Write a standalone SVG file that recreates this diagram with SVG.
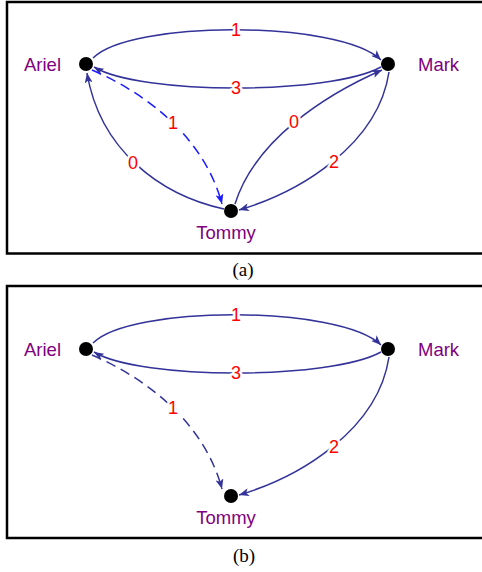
<svg xmlns="http://www.w3.org/2000/svg" width="482" height="572" viewBox="0 0 482 572">
<style>
.frame{fill:none;stroke:#000;stroke-width:2.5}
.edge{fill:none;stroke:#333399;stroke-width:1.5}
.dash{fill:none;stroke-width:1.5;stroke-dasharray:10,6}
.node{fill:#000}
.name{font-family:"Liberation Sans",Arial,sans-serif;font-size:18.5px;fill:#800080}
.lbl{font-family:"Liberation Sans",Arial,sans-serif;font-size:18px;fill:#ff0000;stroke:#fff;stroke-width:5;paint-order:stroke;stroke-linejoin:round;text-anchor:middle}
.cap{font-family:"Liberation Serif","Times New Roman",serif;font-size:19px;fill:#000;text-anchor:middle}
</style>
<defs>
<marker id="arr" markerUnits="userSpaceOnUse" markerWidth="11" markerHeight="8" refX="10" refY="4" orient="auto"><path d="M0,0 L10,4 L0,8 L2.5,4 z" fill="#333399"/></marker>
<marker id="arrB" markerUnits="userSpaceOnUse" markerWidth="11" markerHeight="8" refX="10" refY="4" orient="auto"><path d="M0,0 L10,4 L0,8 L2.5,4 z" fill="#1a1aff"/></marker>
</defs>
<rect class="frame" x="7" y="2" width="500" height="251.5"/>
<rect class="frame" x="7" y="286" width="500" height="252"/>
<text class="cap" x="243" y="276">(a)</text>
<text class="cap" x="244" y="562">(b)</text>

<g id="connectors-a">
<path class="edge" d="M93,58 C130,20 340,20 381,60" marker-end="url(#arr)"/>
<path class="edge" d="M381,67 C330,95 140,95 94,67" marker-end="url(#arr)"/>
<path class="edge" d="M224,209 C160,195 100,150 87,73" marker-end="url(#arr)"/>
<path class="dash" stroke="#1a1aff" d="M92,70 C150,95 205,140 222,204" marker-end="url(#arrB)"/>
<path class="edge" d="M235,204 C255,140 325,95 382,70" marker-end="url(#arr)"/>
<path class="edge" d="M389,72 C378,145 300,192 239,210" marker-end="url(#arr)"/>
<text class="lbl" x="236" y="36">1</text>
<text class="lbl" x="236" y="94">3</text>
<text class="lbl" x="133" y="169">0</text>
<text class="lbl" x="173" y="129">1</text>
<text class="lbl" x="294" y="128">0</text>
<text class="lbl" x="334" y="168">2</text>
</g>
<g id="node-ariel-a"><circle class="node" cx="86" cy="64" r="7"/><text class="name" x="24" y="71">Ariel</text></g>
<g id="node-mark-a"><circle class="node" cx="388" cy="64" r="7"/><text class="name" x="418" y="71">Mark</text></g>
<g id="node-tommy-a"><circle class="node" cx="231" cy="211" r="7"/><text class="name" x="226" y="239" text-anchor="middle">Tommy</text></g>

<g id="connectors-b" transform="translate(0,285)">
<path class="edge" d="M93,58 C130,20 340,20 381,60" marker-end="url(#arr)"/>
<path class="edge" d="M381,67 C330,95 140,95 94,67" marker-end="url(#arr)"/>
<path class="dash" stroke="#333399" d="M92,70 C150,95 205,140 222,204" marker-end="url(#arr)"/>
<path class="edge" d="M389,72 C378,145 300,192 239,210" marker-end="url(#arr)"/>
<text class="lbl" x="236" y="36">1</text>
<text class="lbl" x="236" y="94">3</text>
<text class="lbl" x="173" y="129">1</text>
<text class="lbl" x="334" y="168">2</text>
</g>
<g id="node-ariel-b"><circle class="node" cx="86" cy="349" r="7"/><text class="name" x="24" y="356">Ariel</text></g>
<g id="node-mark-b"><circle class="node" cx="388" cy="349" r="7"/><text class="name" x="418" y="356">Mark</text></g>
<g id="node-tommy-b"><circle class="node" cx="231" cy="496" r="7"/><text class="name" x="226" y="524" text-anchor="middle">Tommy</text></g>
</svg>
